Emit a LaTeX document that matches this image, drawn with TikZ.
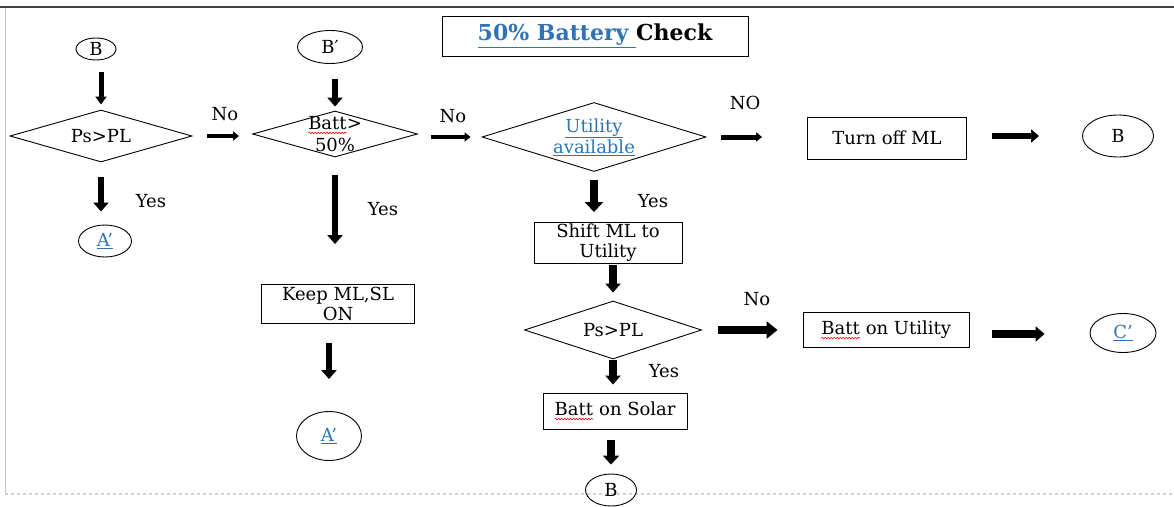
\documentclass[tikz,border=0pt]{standalone}
\usepackage{fontspec}
\setmainfont{DejaVu Serif}
\usetikzlibrary{shapes.geometric,arrows.meta,decorations.pathmorphing}
\definecolor{linkblue}{RGB}{46,116,181}
\newcommand\spellwave[1]{\tikz[baseline=(sw.base)]{\node[shape=rectangle,draw=none,fill=none,inner sep=0pt,minimum width=0pt,minimum height=0pt,outer sep=0pt,anchor=base] (sw) {#1};\draw[red,line width=0.6pt,decorate,decoration={snake,amplitude=0.8pt,segment length=3pt}] ([yshift=-3.5pt]sw.base west) -- ([yshift=-3.5pt]sw.base east);}}
\newcommand\lnk[1]{\textcolor{linkblue}{\underline{#1}}}
\tikzset{
  txt/.style={font=\fontsize{18}{20}\selectfont, inner sep=0pt, align=center},
  dia/.style={diamond, draw, line width=0.9pt, inner sep=0pt},
  ell/.style={ellipse, draw, line width=0.9pt, inner sep=0pt, txt},
  box/.style={rectangle, draw, line width=0.9pt, inner sep=0pt, txt},
  lbl/.style={txt},
  arr/.style={line width=6.5pt, -{Triangle[length=9pt,width=15pt]}},
  arrt/.style={line width=5pt, -{Triangle[length=8pt,width=11pt]}},
  arrs/.style={line width=4pt, -{Triangle[length=6pt,width=9pt]}},
  arrb/.style={line width=8.5pt, -{Triangle[length=11pt,width=17pt]}},
  arrm/.style={line width=6.5pt, -{Triangle[length=8pt,width=13pt]}},
}
\begin{document}
\begin{tikzpicture}[x=1pt,y=-1pt]
\useasboundingbox (0,0) rectangle (1174,506);
% frame of the screenshot
\coordinate (tl) at (0,7);
\coordinate (tr) at (1174,7);
\coordinate (ll) at (5,8);
\coordinate (lb) at (5,494);
\coordinate (bl) at (5,494);
\coordinate (br) at (1174,494);
\draw[line width=1.6pt, black!75] (tl) -- (tr);
\draw[line width=1pt, black!22] (ll) -- (lb);
\draw[line width=1.2pt, black!18, dash pattern=on 3pt off 3pt] (bl) -- (br);

% title
\node[box, minimum width=306pt, minimum height=40pt, font=\fontsize{22}{26}\selectfont\bfseries] (title) at (595,36)
  {\lnk{50\% Battery\ }Check};

% nodes
\node[ell, minimum width=40pt, minimum height=22pt] (B1) at (96,49) {B};
\node[dia, minimum width=182pt, minimum height=52pt, label={[txt]center:{Ps>PL}}] (P1) at (101,136) {};
\node[ell, minimum width=53pt, minimum height=32pt] (A1) at (105,241) {\lnk{A’}};
\node[ell, minimum width=65pt, minimum height=33pt] (B2) at (330,47) {B′};
\node[dia, minimum width=165pt, minimum height=46pt, label={[txt]center:{\spellwave{Batt}>\\[2pt]50\%}}] (D2) at (335,134) {};
\node[box, minimum width=153pt, minimum height=39pt] (K) at (338,304) {Keep ML,SL\\ON};
\node[ell, minimum width=65pt, minimum height=49pt] (A2) at (329,436) {\lnk{A’}};
\node[dia, minimum width=224pt, minimum height=69pt, label={[txt]center:{\lnk{Utility}\\[1pt]\lnk{available}}}] (U) at (594,137) {};
\node[box, minimum width=159pt, minimum height=42pt] (T) at (887,138) {Turn off ML};
\node[ell, minimum width=71pt, minimum height=42pt] (B3) at (1118,136) {B};
\node[box, minimum width=148pt, minimum height=41pt] (S) at (608,243) {Shift ML to\\Utility};
\node[dia, minimum width=177pt, minimum height=58pt, label={[txt]center:{Ps>PL}}] (P2) at (613,330) {};
\node[box, minimum width=166pt, minimum height=35pt] (BU) at (886,330) {\spellwave{Batt} on Utility};
\node[ell, minimum width=66pt, minimum height=39pt] (C) at (1123,333) {\lnk{C’}};
\node[box, minimum width=144pt, minimum height=36pt] (BS) at (615,411) {\spellwave{Batt} on Solar};
\node[ell, minimum width=51pt, minimum height=32pt] (B4) at (611,490) {B};

% labels
\node[lbl] (l1) at (225,114) {No};
\node[lbl] (l2) at (151,201) {Yes};
\node[lbl] (l3) at (383,209) {Yes};
\node[lbl] (l4) at (453,116) {No};
\node[lbl] (l5) at (745,103) {NO};
\node[lbl] (l6) at (653,201) {Yes};
\node[lbl] (l7) at (757,299) {No};
\node[lbl] (l8) at (664,371) {Yes};

% connectors
\draw[arrt, shorten <=12pt, shorten >=5pt] (B1.south -| P1.north) -- (P1.north);
\draw[arr, shorten <=15pt, shorten >=13pt] (P1.south) -- (P1.south |- A1.north);
\draw[arrs, shorten <=15pt, shorten >=13pt] (P1.east) -- (P1.east -| D2.west);
\draw[arr, shorten <=15pt, shorten >=4pt] (B2.south -| D2.north) -- (D2.north);
\draw[arr, shorten <=18pt, shorten >=40pt] (D2.south) -- (D2.south |- K.north);
\draw[arr, shorten <=19pt, shorten >=32pt] (K.south -| A2.north) -- (A2.north);
\draw[arrs, shorten <=13pt, shorten >=11pt] (D2.east |- U.west) -- (U.west);
\draw[arrs, line width=5pt, shorten <=15pt, shorten >=45pt] (U.east) -- (U.east -| T.west);
\draw[arrm, shorten <=25pt, shorten >=43pt] (T.east |- B3.west) -- (B3.west);
\draw[arr, line width=7.5pt, -{Triangle[length=10pt,width=18pt]}, shorten <=8pt, shorten >=10pt] (U.south) -- (U.south |- S.north);
\draw[arr, line width=7.5pt, shorten <=1pt, shorten >=8pt] (S.south -| P2.north) -- (P2.north);
\draw[arrb, shorten <=16pt, shorten >=25pt] (P2.east) -- (P2.east -| BU.west);
\draw[arrm, line width=7.5pt, -{Triangle[length=9pt,width=15pt]}, shorten <=23pt, shorten >=45pt] ([yshift=-4pt]BU.east) -- ([yshift=-4pt]BU.east -| C.west);
\draw[arr, line width=7.5pt, shorten <=1pt, shorten >=8pt] (P2.south) -- (P2.south |- BS.north);
\draw[arr, line width=7.5pt, -{Triangle[length=9pt,width=16pt]}, shorten <=11pt, shorten >=9pt] (BS.south -| B4.north) -- (B4.north);
\end{tikzpicture}
\end{document}
